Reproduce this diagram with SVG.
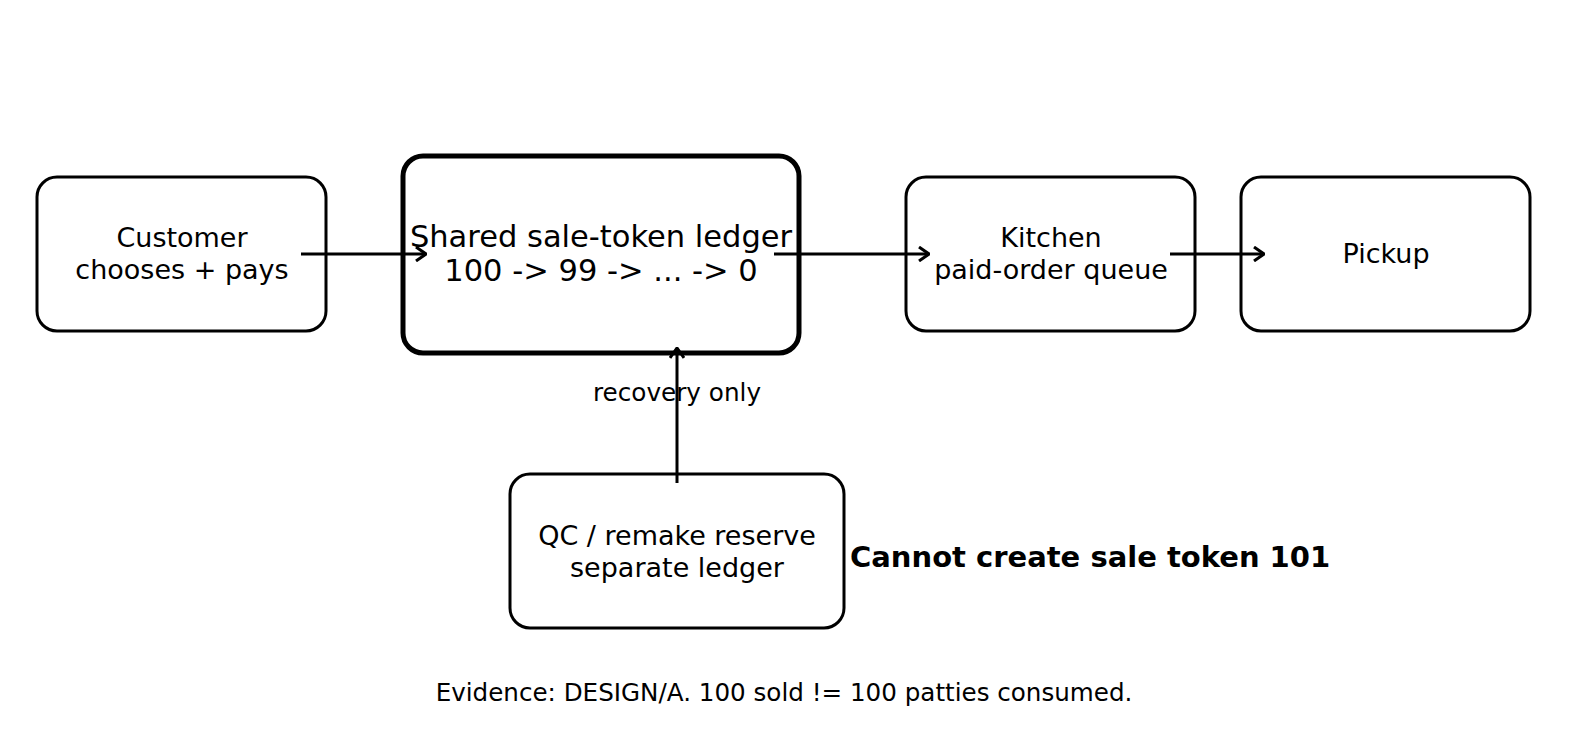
<svg xmlns="http://www.w3.org/2000/svg" width="1578" height="755" viewBox="0 0 1578 755">
<style>
.b{fill:#fff;stroke:#000;stroke-width:3}
.t{font-family:"DejaVu Sans",sans-serif;font-size:27px;text-anchor:middle;fill:#000}
.c{stroke:#000;stroke-width:3;fill:none}
</style>
<defs><marker id="a" viewBox="0 0 12 16" refX="11" refY="8" markerWidth="12" markerHeight="16" markerUnits="userSpaceOnUse" orient="auto"><path d="M1 1 L11 8 L1 15" fill="none" stroke="#000" stroke-width="3"/></marker></defs>
<rect width="1578" height="755" fill="#fff"/>
<g id="customer"><rect class="b" x="37" y="177" width="289" height="154" rx="20"/><text class="t" x="182" y="247">Customer</text><text class="t" x="182" y="279">chooses + pays</text></g>
<g id="ledger"><rect class="b" x="403" y="156" width="396" height="197" rx="20" style="stroke-width:5"/><text class="t" x="601" y="247" style="font-size:30.5px">Shared sale-token ledger</text><text class="t" x="601" y="281" style="font-size:30.5px">100 -&gt; 99 -&gt; ... -&gt; 0</text></g>
<g id="kitchen"><rect class="b" x="906" y="177" width="289" height="154" rx="20"/><text class="t" x="1051" y="247">Kitchen</text><text class="t" x="1051" y="279">paid-order queue</text></g>
<g id="pickup"><rect class="b" x="1241" y="177" width="289" height="154" rx="20"/><text class="t" x="1386" y="263">Pickup</text></g>
<g id="qc"><rect class="b" x="510" y="474" width="334" height="154" rx="20"/><text class="t" x="677" y="545">QC / remake reserve</text><text class="t" x="677" y="577">separate ledger</text></g>
<g id="connectors">
<line class="c" x1="301" y1="254" x2="426" y2="254" marker-end="url(#a)"/>
<line class="c" x1="774" y1="254" x2="929" y2="254" marker-end="url(#a)"/>
<line class="c" x1="1170" y1="254" x2="1264" y2="254" marker-end="url(#a)"/>
<line class="c" x1="677" y1="483" x2="677" y2="348" marker-end="url(#a)"/>
<text class="t" x="677" y="401" style="font-size:24.7px">recovery only</text>
</g>
<text x="850" y="567" font-family="DejaVu Sans,sans-serif" font-size="29" font-weight="bold">Cannot create sale token 101</text>
<text class="t" x="784" y="701" style="font-size:24.6px">Evidence: DESIGN/A. 100 sold != 100 patties consumed.</text>
</svg>
